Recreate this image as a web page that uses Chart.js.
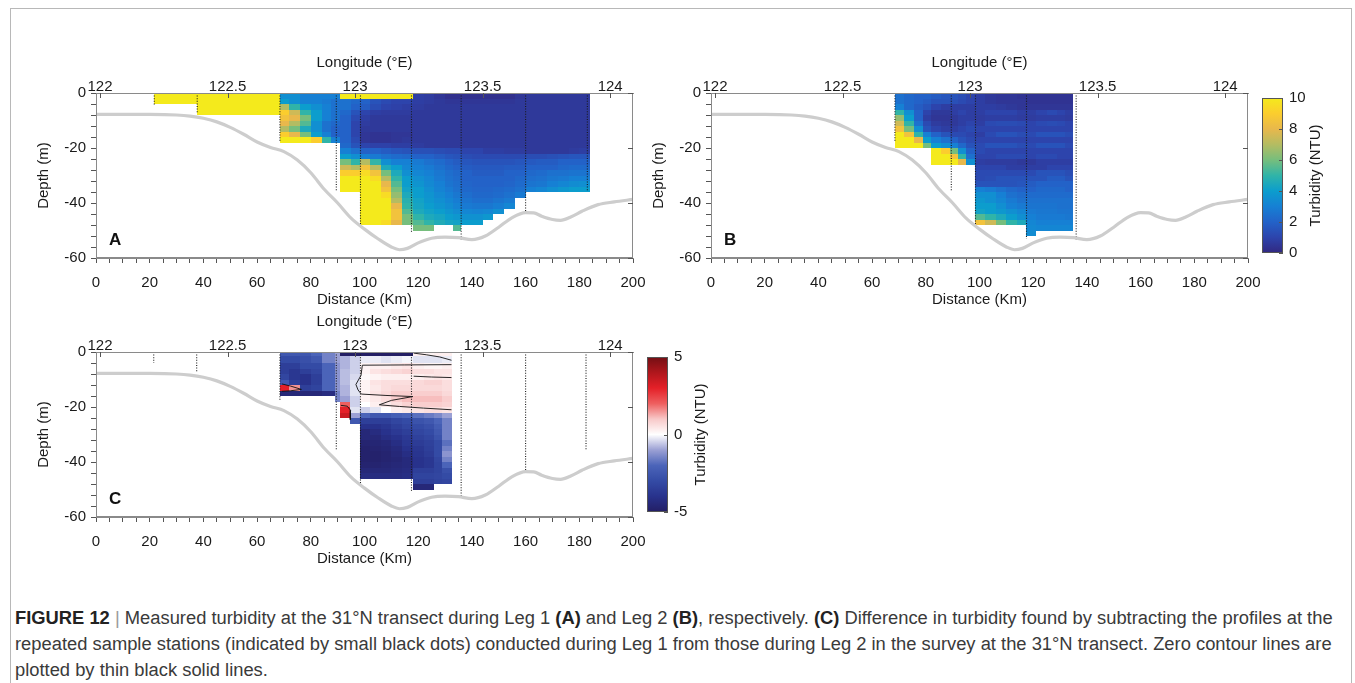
<!DOCTYPE html>
<html lang="en">
<head>
<meta charset="UTF-8">
<title>Turbidity at the 31°N transect</title>
<script src="https://cdn.jsdelivr.net/npm/chart.js"></script>
<style>
  body { margin: 0; background: #fff; width: 1355px; height: 683px; overflow: hidden; position: relative;
         font-family: "Liberation Sans", Arial, sans-serif; }
  .frame { position: absolute; left: 10px; top: 8px; width: 1340px; height: 700px; border: 1px solid #b8b8b8; }
  canvas { position: absolute; }
  #caption { position: absolute; left: 15px; top: 605px; color: #3a3a3a; font-size: 16px; line-height: 26px; }
  #caption span { display: inline-block; white-space: nowrap; }
  #caption b { color: #222; }
  #caption .sep { color: #999; font-weight: normal; }
</style>
</head>
<body>
<div class="frame"></div>
<canvas id="panelA" width="640" height="285" style="left:20px;top:40px"></canvas>
<canvas id="panelB" width="640" height="285" style="left:635px;top:40px"></canvas>
<canvas id="panelC" width="640" height="285" style="left:20px;top:299px"></canvas>
<canvas id="barB" width="100" height="185" style="left:1250px;top:83px"></canvas>
<canvas id="barC" width="100" height="185" style="left:635px;top:342px"></canvas>
<div id="caption">
  <span class="l1"><b>FIGURE 12</b> <span class="sep">|</span> Measured turbidity at the 31°N transect during Leg 1 <b>(A)</b> and Leg 2 <b>(B)</b>, respectively. <b>(C)</b> Difference in turbidity found by subtracting the profiles at the</span><br>
  <span>repeated sample stations (indicated by small black dots) conducted during Leg 1 from those during Leg 2 in the survey at the 31°N transect. Zero contour lines are</span><br>
  <span>plotted by thin black solid lines.</span>
</div>
<script>
const _ = null;

// bottom profile along the transect
const bathDist = [0, 10, 20, 30, 35, 40, 45, 50, 55, 60, 65, 70, 75, 80, 85, 90, 95, 100, 105, 110,
  113, 116, 120, 125, 130, 135, 140, 145, 150, 155, 160, 163, 166, 170, 173, 177, 181, 187, 193, 200];
const bathDepth = [-7.8, -7.8, -7.8, -8, -8.4, -9.2, -10.5, -12.5, -15, -17.8, -19.8, -21.3, -24.4, -29, -35, -40, -45.5, -49.5, -53, -56,
  -57, -56.5, -54.5, -52.8, -52.4, -52.6, -53.3, -52, -48.8, -45.3, -43.5, -43.6, -44.8, -46, -46.3, -45, -43, -40.6, -39.6, -38.7];

// stations (km) and depth reached by each cast (m)
const stationsA = [21.7, 37.7, 68.5, 89.5, 98.5, 117.5, 136, 160, 183];
const castsA = [-4.5, -7.5, -17.5, -35.5, -48, -50.5, -53.3, -44.2, -35.6];
const stationsB = [68.5, 89.5, 98.5, 117.5, 136];
const castsB = [-17.5, -35.5, -48.5, -53, -53.3];
const stationsC = [21.5, 37.5, 68.5, 89.5, 98.5, 117.5, 136, 160, 182.5];
const castsC = [-4, -7.5, -17.5, -35.5, -48.5, -50.5, -53, -44, -35.5];

// Leg 1 turbidity (NTU): column edges (km), row edges (m), one row per depth band
const distEdgesA = [21.7, 37.7, 68.5, 72, 76, 80, 84, 87.5, 91, 95, 98.5, 102, 106, 110, 114, 118, 122,
  126, 130, 133, 136, 140, 144, 148, 152, 156, 160, 164, 168, 172, 176, 180, 184];
const depthEdgesA = [0, -2, -4, -6, -8, -10, -12, -14, -16, -18, -20, -22, -24, -26, -28, -30, -32, -34,
  -36, -38, -40, -42, -44, -46, -48, -50];
const turbA = [
  [10, 10, 3.5, 3.5, 3, 3, 3, 3, 10, 10, 10, 10, 10, 10, 10, 0.8, 0.7, 0.5, 0.3, 0.3, 0.3, 0.3, 0.3, 0.3, 0.3, 0.5, 0.6, 0.6, 0.6, 0.6, 0.6, 0.6],
  [10, 10, 4, 3.5, 3, 3, 2.8, 2.5, 2.5, 2.2, 2, 1.5, 1.2, 1, 1, 0.8, 0.7, 0.6, 0.5, 0.5, 0.5, 0.5, 0.5, 0.5, 0.5, 0.6, 0.6, 0.6, 0.6, 0.6, 0.6, 0.6],
  [_, 10, 7, 5, 4, 3.5, 3, 2.5, 2.5, 2, 1.8, 1.3, 1, 0.9, 0.8, 0.7, 0.6, 0.6, 0.6, 0.6, 0.6, 0.6, 0.6, 0.6, 0.6, 0.6, 0.6, 0.6, 0.6, 0.6, 0.6, 0.6],
  [_, 10, 9, 7.5, 5, 4, 3, 2.5, 2.2, 1.5, 1, 0.8, 0.7, 0.7, 0.7, 0.6, 0.6, 0.6, 0.6, 0.6, 0.6, 0.6, 0.6, 0.6, 0.6, 0.6, 0.6, 0.6, 0.6, 0.6, 0.6, 0.6],
  [_, _, 8.5, 8, 6, 4, 3, 2.5, 2, 1.2, 0.8, 0.6, 0.6, 0.6, 0.6, 0.6, 0.6, 0.6, 0.6, 0.6, 0.6, 0.6, 0.6, 0.6, 0.6, 0.6, 0.6, 0.6, 0.6, 0.6, 0.6, 0.6],
  [_, _, 8, 7, 5.5, 3.5, 2.5, 2.2, 2, 1, 0.7, 0.6, 0.6, 0.6, 0.6, 0.6, 0.6, 0.6, 0.6, 0.6, 0.6, 0.6, 0.6, 0.6, 0.6, 0.6, 0.6, 0.6, 0.6, 0.6, 0.6, 0.6],
  [_, _, 7, 6, 4.5, 3.5, 2.5, 2, 2, 1, 0.6, 0.6, 0.6, 0.6, 0.6, 0.6, 0.6, 0.6, 0.6, 0.6, 0.6, 0.6, 0.6, 0.6, 0.6, 0.6, 0.6, 0.6, 0.6, 0.6, 0.6, 0.6],
  [_, _, 9, 8, 6, 4, 3, 2, 2, 1, 0.5, 0.4, 0.4, 0.5, 0.5, 0.6, 0.6, 0.6, 0.6, 0.6, 0.6, 0.6, 0.6, 0.6, 0.6, 0.6, 0.6, 0.6, 0.6, 0.6, 0.6, 0.6],
  [_, _, 10, 10, 10, 9, 5, 3, 2, 1.2, 0.5, 0.4, 0.4, 0.5, 0.6, 0.6, 0.6, 0.6, 0.6, 0.6, 0.6, 0.6, 0.6, 0.6, 0.6, 0.6, 0.6, 0.6, 0.6, 0.6, 0.6, 0.6],
  [_, _, _, _, _, _, _, _, 2.2, 1.5, 1, 0.9, 0.9, 0.8, 0.8, 0.7, 0.6, 0.6, 0.6, 0.6, 0.6, 0.6, 0.6, 0.6, 0.6, 0.6, 0.6, 0.6, 0.6, 0.6, 0.6, 0.6],
  [_, _, _, _, _, _, _, _, 3, 2.5, 2, 2, 1.8, 1.6, 1.5, 1.4, 1.4, 1.3, 1.2, 1.2, 1, 1, 0.8, 0.8, 0.7, 0.7, 0.6, 0.6, 0.6, 0.6, 0.7, 0.8],
  [_, _, _, _, _, _, _, _, 4, 3.5, 3, 2.8, 2.5, 2.3, 2.2, 2, 2, 1.8, 1.6, 1.5, 1.3, 1.2, 1.2, 1.2, 1.2, 1.2, 1.3, 1.3, 1.4, 1.5, 1.6, 1.6],
  [_, _, _, _, _, _, _, _, 6, 5, 7, 5, 3.5, 3, 3, 2.8, 2.5, 2.3, 2, 1.8, 1.6, 1.5, 1.5, 1.5, 1.5, 1.6, 1.7, 1.8, 1.8, 2, 2, 2],
  [_, _, _, _, _, _, _, _, 7.5, 7, 8.5, 7, 4.5, 4, 3.2, 3, 2.8, 2.5, 2.2, 2, 1.8, 1.7, 1.7, 1.7, 1.8, 1.8, 2, 2, 2, 2.2, 2.3, 2.3],
  [_, _, _, _, _, _, _, _, 9, 9, 9.5, 8.5, 6, 4.5, 3.5, 3.2, 3, 2.7, 2.4, 2.2, 2, 1.8, 1.8, 1.8, 2, 2, 2.2, 2.3, 2.5, 2.5, 2.6, 2.6],
  [_, _, _, _, _, _, _, _, 10, 10, 10, 9.5, 7, 5, 4, 3.5, 3.2, 2.8, 2.5, 2.3, 2, 2, 2, 2, 2, 2.2, 2.4, 2.5, 2.7, 2.8, 3, 3],
  [_, _, _, _, _, _, _, _, 10, 10, 10, 10, 8, 5.5, 4, 3.7, 3.3, 3, 2.6, 2.4, 2.1, 2, 2, 2, 2.1, 2.3, 2.6, 2.7, 3, 3.2, 3.4, 3.5],
  [_, _, _, _, _, _, _, _, 10, 10, 10, 10, 8.5, 6, 4.2, 4, 3.5, 3.1, 2.8, 2.5, 2.2, 2.1, 2.1, 2.2, 2.3, 2.5, 3, 3.2, 3.5, 3.8, 4, 4],
  [_, _, _, _, _, _, _, _, _, _, 10, 10, 9.5, 6.5, 4.5, 4, 3.7, 3.3, 3, 2.7, 2.4, 2.2, 2.2, 2.3, 2.5, 2.8, _, _, _, _, _, _],
  [_, _, _, _, _, _, _, _, _, _, 10, 10, 10, 7, 4.8, 4.2, 3.8, 3.5, 3.2, 2.9, 2.6, 2.4, 2.4, 2.6, 2.8, _, _, _, _, _, _, _],
  [_, _, _, _, _, _, _, _, _, _, 10, 10, 10, 8, 5, 4.3, 4, 3.7, 3.4, 3.1, 2.8, 2.7, 2.7, 2.9, 3.2, _, _, _, _, _, _, _],
  [_, _, _, _, _, _, _, _, _, _, 10, 10, 10, 8.5, 5.5, 4.5, 4.2, 4, 3.7, 3.4, 3.2, 3.1, 3.2, 3.5, _, _, _, _, _, _, _, _],
  [_, _, _, _, _, _, _, _, _, _, 10, 10, 10, 8.5, 6, 5, 4.5, 4.3, 4, 3.8, 3.6, 3.6, 3.8, _, _, _, _, _, _, _, _, _],
  [_, _, _, _, _, _, _, _, _, _, 10, 10, 9.5, 8, 6, 5.5, 5, 4.6, 4.3, 4.2, 4, 4, _, _, _, _, _, _, _, _, _, _],
  [_, _, _, _, _, _, _, _, _, _, _, _, _, _, _, 6, 6, _, _, 5.5, _, _, _, _, _, _, _, _, _, _, _, _]
];

// Leg 2 turbidity (NTU)
const distEdgesB = [68.5, 72, 75.5, 79, 82, 85.5, 89, 92, 95, 98.5, 102, 106, 110, 114, 117.5, 121, 125, 129, 132, 135];
const depthEdgesB = [0, -2, -4, -6, -8, -10, -12, -14, -16, -18, -20, -22, -24, -26, -28, -30, -32, -34,
  -36, -38, -40, -42, -44, -46, -48, -50, -52];
const turbB = [
  [2.5, 2.2, 2, 2, 1.8, 1.6, 1.5, 1.3, 1, 0.8, 0.6, 0.5, 0.5, 0.4, 0.4, 0.4, 0.4, 0.4, 0.4],
  [2.5, 2.2, 2, 1.8, 1.5, 1.5, 1.4, 1.2, 1, 0.8, 0.6, 0.5, 0.5, 0.5, 0.4, 0.4, 0.4, 0.4, 0.4],
  [3, 2.2, 1.8, 1.5, 1, 0.8, 0.8, 0.8, 0.8, 0.8, 0.8, 0.7, 0.6, 0.5, 0.5, 0.5, 0.5, 0.5, 0.5],
  [5, 3.5, 2, 1, 0.6, 0.6, 0.8, 1, 0.8, 0.8, 1, 1, 1, 0.8, 0.8, 1, 1.2, 1, 0.8],
  [6.5, 4, 2, 0.8, 0.5, 0.5, 0.6, 0.8, 0.8, 0.7, 0.8, 0.8, 0.8, 0.7, 0.7, 0.8, 0.8, 0.8, 0.7],
  [7.5, 5, 2.5, 1.2, 0.7, 0.6, 0.6, 0.8, 1, 0.8, 1.2, 1.3, 1.3, 1.2, 1, 1.2, 1.3, 1.2, 1],
  [8.5, 6, 3.5, 1.5, 1, 0.8, 0.8, 1, 1.2, 1, 1, 1, 1, 1, 1, 1, 1, 1, 1],
  [10, 8.5, 5, 3, 2, 1.5, 1.2, 1.2, 1, 0.8, 1.2, 1.5, 1.5, 1.3, 1.2, 1.5, 1.5, 1.5, 1.3],
  [10, 10, 8, 4, 3, 2.5, 2, 1.5, 1.2, 1, 1, 1, 1, 1, 1, 1, 1, 1, 1],
  [10, 10, 10, 6, 4, 3.5, 3, 2.2, 1.5, 1.2, 1.5, 1.5, 1.5, 1.3, 1.2, 1.5, 1.5, 1.5, 1.2],
  [_, _, _, _, 10, 9, 6, 3.5, 2, 1.2, 1, 1, 1, 1, 1, 1, 1, 1, 1],
  [_, _, _, _, 10, 10, 8.5, 5, 2.5, 1, 1, 1.2, 1.2, 1.2, 1, 1.2, 1.2, 1, 1],
  [_, _, _, _, 10, 10, 10, 8, 3.5, 0.8, 0.7, 0.7, 0.7, 0.6, 0.6, 0.8, 0.8, 0.8, 0.8],
  [_, _, _, _, _, _, _, _, _, 1, 1, 1, 0.8, 0.8, 0.8, 0.8, 1, 1, 1],
  [_, _, _, _, _, _, _, _, _, 1.2, 1.2, 1.2, 1.2, 1.2, 1.2, 1.5, 1.5, 1.5, 1.3],
  [_, _, _, _, _, _, _, _, _, 1.2, 1.3, 1.5, 1.5, 1.5, 1.5, 1.5, 1.8, 1.8, 1.5],
  [_, _, _, _, _, _, _, _, _, 1.5, 1.5, 1.5, 1.5, 1.6, 1.8, 2, 2, 2, 2],
  [_, _, _, _, _, _, _, _, _, 3, 2.8, 2.5, 2.2, 2, 2, 2.2, 2.2, 2.2, 2],
  [_, _, _, _, _, _, _, _, _, 3.5, 3.5, 3, 2.5, 2.3, 2.3, 2.3, 2.3, 2.3, 2.3],
  [_, _, _, _, _, _, _, _, _, 3.8, 3.5, 3.2, 2.8, 2.5, 2.5, 2.5, 2.5, 2.5, 2.5],
  [_, _, _, _, _, _, _, _, _, 4, 4, 3.5, 3, 2.8, 2.6, 2.6, 2.6, 2.5, 2.5],
  [_, _, _, _, _, _, _, _, _, 4.2, 4, 3.8, 3.5, 3.2, 2.8, 2.7, 2.7, 2.6, 2.6],
  [_, _, _, _, _, _, _, _, _, 5.5, 5, 4.5, 4, 3.5, 3, 2.8, 2.8, 2.8, 2.7],
  [_, _, _, _, _, _, _, _, _, 8.5, 7.5, 6, 5, 4.5, 3.2, 3, 3, 3, 3],
  [_, _, _, _, _, _, _, _, _, _, _, _, _, _, 3.3, 3.2, 3.2, 3.2, 3.2],
  [_, _, _, _, _, _, _, _, _, _, _, _, _, _, 3.4, _, _, _, _]
];

// Leg 2 minus Leg 1 (NTU)
const distEdgesC = [68.5, 72, 76, 80, 84, 89, 91, 94.5, 98.5, 102, 106, 110, 114, 118, 122, 126, 129, 132.5];
const depthEdgesC = [0, -1.5, -4, -6, -8, -10, -12, -14, -16, -18, -20, -22, -24, -26, -28, -30, -32, -34,
  -36, -38, -40, -42, -44, -46, -48, -50];
const diffC = [
  [-2.5, -2.5, -2.5, -2, -1.5, -1, -5, -5, -5, -5, -5, -5, -5, 0.3, 0.2, 0.3, 0.3],
  [-3, -3, -2.8, -2.5, -1.5, -1, -0.8, -0.5, -0.2, -0.2, -0.3, -0.2, -0.1, -0.3, -0.3, -0.3, -0.2],
  [-3.5, -3.5, -3, -3, -2, -1.2, -0.8, -0.5, 0.2, 0.3, 0.3, 0.4, 0.5, 0.3, 0.2, 0.2, 0.3],
  [-3.5, -3.8, -3.5, -3.2, -2, -1.2, -0.7, -0.5, 0.2, 0.5, 0.6, 0.7, 0.8, 0.6, 0.6, 0.5, 0.5],
  [-3.2, -3.8, -4, -3.5, -2, -1.2, -0.7, -0.4, 0.1, 0.2, 0.3, 0.3, 0.3, 0.3, 0.4, 0.5, 0.4],
  [-2.5, -3.5, -4, -3.5, -2, -1.2, -0.7, -0.3, 0.2, 0.5, 0.6, 0.6, 0.6, 0.7, 0.8, 0.8, 0.6],
  [3, 1.5, -3.5, -3.3, -2, -1.2, -0.8, -0.3, 0.2, 0.4, 0.6, 0.7, 0.7, 0.7, 0.7, 0.7, 0.6],
  [-4.5, -4.5, -4.5, -4.5, -4.3, -1.5, -0.8, -0.3, 0.2, 0.5, 0.7, 0.9, 0.9, 0.9, 0.9, 0.9, 0.7],
  [_, _, _, _, _, -1.5, -1, -0.5, 0.2, 0.4, 0.6, 0.9, 1.1, 1.1, 1.1, 1.1, 0.9],
  [_, _, _, _, _, _, 2, -0.5, 0, 0.3, 0.4, 0.6, 0.8, 0.9, 0.9, 0.9, 0.8],
  [_, _, _, _, _, _, 3, -0.3, -0.5, -0.3, 0, 0.3, 0.4, 0.5, 0.6, 0.6, 0.5],
  [_, _, _, _, _, _, 3.5, -1, -2, -2.5, -2.5, -2.2, -2, -1.8, -1.6, -1.4, -1],
  [_, _, _, _, _, _, _, -2.5, -3.5, -3.5, -3.5, -3.2, -3, -2.7, -2.5, -2, -1.5],
  [_, _, _, _, _, _, _, _, -4, -4, -3.8, -3.5, -3.2, -3, -2.8, -2.3, -1.5],
  [_, _, _, _, _, _, _, _, -4.5, -4.3, -4, -3.7, -3.5, -3.2, -3, -2.5, -1.5],
  [_, _, _, _, _, _, _, _, -4.5, -4.5, -4.2, -4, -3.7, -3.4, -3.2, -2.7, -1.5],
  [_, _, _, _, _, _, _, _, -4.7, -4.6, -4.5, -4.2, -3.8, -3.6, -3.4, -3, -1.8],
  [_, _, _, _, _, _, _, _, -4.8, -4.7, -4.6, -4.4, -4, -3.8, -3.5, -3, -1.5],
  [_, _, _, _, _, _, _, _, -4.8, -4.8, -4.7, -4.5, -4.2, -3.9, -3.6, -3, -1.2],
  [_, _, _, _, _, _, _, _, -4.8, -4.8, -4.7, -4.6, -4.4, -4, -3.8, -3.2, -1.5],
  [_, _, _, _, _, _, _, _, -4.7, -4.7, -4.6, -4.5, -4.4, -4, -3.8, -3.3, -2],
  [_, _, _, _, _, _, _, _, -4.5, -4.5, -4.5, -4.4, -4.3, -3.5, -3.5, -3.3, -2.8],
  [_, _, _, _, _, _, _, _, -4.3, -4.3, -4.3, -4.3, -4.2, -3.3, -3.3, -3.2, -3],
  [_, _, _, _, _, _, _, _, _, _, _, _, _, -3.5, -3.5, -3.3, -3.2],
  [_, _, _, _, _, _, _, _, _, _, _, _, _, -4.5, -4.5, _, _]
];

// zero contours of the difference, [km, m]
const contoursC = [
  [[69.2, -11.6], [72.5, -12.4], [76.5, -13.6], [72.5, -14.1], [69.2, -14.3]],
  [[91.2, -19.4], [93.6, -19.7], [94.8, -21.2], [94.7, -24.6]],
  [[118.3, -0.4], [123, -1], [128, -1.8], [132.4, -3]],
  [[132.4, -4.6], [115, -4.7], [99.2, -4.8], [98.7, -8.5], [96.8, -11.8], [97.6, -13.8], [98.8, -15.3], [108, -15.8],
   [118, -16.2], [110, -17.6], [105.5, -19.2], [113, -19.8], [122, -20.4], [132.4, -21]],
  [[118.3, -8.8], [125, -9.1], [132.4, -9.3]]
];

// colour maps
const parula = [[0, [50, 40, 128]], [1, [45, 68, 172]], [2, [35, 98, 200]], [3, [22, 128, 212]], [4, [12, 157, 205]],
  [5, [48, 180, 168]], [6, [118, 190, 125]], [7, [180, 188, 98]], [8, [232, 184, 76]], [9, [251, 205, 46]], [10, [244, 234, 28]]];
const blueRed = [[-5, [35, 30, 100]], [-4, [40, 50, 140]], [-3, [52, 75, 165]], [-2, [75, 100, 185]], [-1, [155, 160, 212]],
  [0, [255, 255, 255]], [1, [248, 200, 200]], [2, [238, 95, 95]], [3, [228, 32, 40]], [4, [175, 22, 28]], [5, [115, 15, 20]]];

// longitude axis: 122°E sits at 1.5 km, ~95 km per degree
const lonAt0 = 122 - 1.5 / 95;
const lonAt200 = 122 + 198.5 / 95;

const FONT = '"Liberation Sans", Arial, sans-serif';
Chart.defaults.font.family = FONT;
Chart.defaults.font.size = 15;
Chart.defaults.color = '#1a1a1a';

function rampColor(stops, v) {
  if (v <= stops[0][0]) return `rgb(${stops[0][1].join(',')})`;
  for (let i = 1; i < stops.length; i++) {
    if (v <= stops[i][0]) {
      const [v0, c0] = stops[i - 1];
      const [v1, c1] = stops[i];
      const t = (v - v0) / (v1 - v0);
      return `rgb(${c0.map((c, k) => Math.round(c + (c1[k] - c) * t)).join(',')})`;
    }
  }
  return `rgb(${stops[stops.length - 1][1].join(',')})`;
}

function heatmap(dists, depths, rows, stops) {
  return {
    id: 'heatmap',
    beforeDatasetsDraw(chart) {
      const { ctx, chartArea: a, scales: { x, y } } = chart;
      ctx.save();
      ctx.beginPath();
      ctx.rect(a.left, a.top, a.width, a.height);
      ctx.clip();
      rows.forEach((row, r) => {
        const y0 = Math.round(y.getPixelForValue(depths[r]));
        const y1 = Math.round(y.getPixelForValue(depths[r + 1]));
        row.forEach((v, c) => {
          if (v === null) return;
          const x0 = Math.round(x.getPixelForValue(dists[c]));
          const x1 = Math.round(x.getPixelForValue(dists[c + 1]));
          ctx.fillStyle = rampColor(stops, v);
          ctx.fillRect(x0, y0, x1 - x0, y1 - y0);
        });
      });
      ctx.restore();
    }
  };
}

function frame(letter) {
  return {
    id: 'frame',
    afterDatasetsDraw(chart) {
      const { ctx, chartArea: a, scales } = chart;
      ctx.save();
      ctx.strokeStyle = '#8a8a8a';
      ctx.lineWidth = 1;
      ctx.strokeRect(a.left + 0.5, a.top + 0.5, a.width - 1, a.height - 1);
      ctx.strokeStyle = '#555';
      ctx.beginPath();
      scales.x2.ticks.forEach(t => {
        const px = Math.round(scales.x2.getPixelForValue(t.value)) + 0.5;
        ctx.moveTo(px, a.top);
        ctx.lineTo(px, a.top + 5);
      });
      scales.y.ticks.forEach(t => {
        if (t.value % 20 !== 0) return;
        const py = Math.round(scales.y.getPixelForValue(t.value)) + 0.5;
        ctx.moveTo(a.right, py);
        ctx.lineTo(a.right - 5, py);
      });
      ctx.stroke();
      ctx.fillStyle = '#111';
      ctx.font = `bold 17px ${FONT}`;
      ctx.fillText(letter, a.left + 13, a.bottom - 13);
      ctx.restore();
    }
  };
}

function colorbar(stops, title) {
  return {
    id: 'colorbar',
    beforeDatasetsDraw(chart) {
      const { ctx, chartArea: a, scales: { y } } = chart;
      const lo = stops[0][0], hi = stops[stops.length - 1][0];
      const g = ctx.createLinearGradient(0, y.getPixelForValue(lo), 0, y.getPixelForValue(hi));
      stops.forEach(([v, c]) => g.addColorStop((v - lo) / (hi - lo), `rgb(${c.join(',')})`));
      ctx.save();
      ctx.fillStyle = g;
      ctx.fillRect(a.left, a.top, a.width, a.height);
      ctx.strokeStyle = '#555';
      ctx.lineWidth = 1;
      ctx.strokeRect(a.left + 0.5, a.top + 0.5, a.width - 1, a.height - 1);
      ctx.beginPath();
      y.ticks.forEach(t => {
        const py = Math.round(y.getPixelForValue(t.value)) + 0.5;
        ctx.moveTo(a.right, py);
        ctx.lineTo(a.right - 4, py);
      });
      ctx.stroke();
      ctx.translate(a.right + 33, (a.top + a.bottom) / 2);
      ctx.rotate(-Math.PI / 2);
      ctx.font = `15px ${FONT}`;
      ctx.fillStyle = '#1a1a1a';
      ctx.textAlign = 'center';
      ctx.textBaseline = 'middle';
      ctx.fillText(title, 0, 0);
      ctx.restore();
    }
  };
}

function lineSets(stations, casts, contours) {
  const sets = [{
    data: bathDist.map((d, i) => ({ x: d, y: bathDepth[i] })),
    borderColor: '#cdcdcd', borderWidth: 3.2, cubicInterpolationMode: 'monotone'
  }];
  stations.forEach((s, i) => sets.push({
    data: [{ x: s, y: 0 }, { x: s, y: casts[i] }],
    borderColor: '#1a1a1a', borderWidth: 1.1, borderDash: [1, 1.6]
  }));
  contours.forEach(c => sets.push({
    data: c.map(([x, y]) => ({ x, y })),
    borderColor: '#111', borderWidth: 0.9
  }));
  return sets.map(s => Object.assign({ showLine: true, pointRadius: 0, fill: false }, s));
}

function panel(id, letter, dists, depths, rows, stops, stations, casts, contours) {
  return new Chart(document.getElementById(id), {
    type: 'scatter',
    data: { datasets: lineSets(stations, casts, contours) },
    options: {
      responsive: false,
      animation: false,
      devicePixelRatio: 1,
      layout: { autoPadding: false, padding: { left: 0, right: 27, top: 0, bottom: 0 } },
      plugins: { legend: { display: false }, tooltip: { enabled: false } },
      scales: {
        x: {
          type: 'linear', position: 'bottom', min: 0, max: 200,
          ticks: { stepSize: 5, autoSkip: false, maxRotation: 0, padding: 11, callback: v => (v % 20 === 0 ? v : '') },
          grid: { drawOnChartArea: false, tickLength: 5, color: '#555' },
          border: { color: '#8a8a8a' },
          title: { display: true, text: 'Distance (Km)', padding: { bottom: 16 } },
          afterFit: s => { s.height = 67; }
        },
        x2: {
          type: 'linear', position: 'top', min: lonAt0, max: lonAt200,
          ticks: { stepSize: 0.5, includeBounds: false, padding: -3, callback: v => String(v) },
          grid: { drawOnChartArea: false, drawTicks: false },
          border: { color: '#8a8a8a' },
          title: { display: true, text: 'Longitude (°E)', padding: { top: 14 } },
          afterFit: s => { s.height = 53; }
        },
        y: {
          type: 'linear', position: 'left', min: -60, max: 0,
          ticks: { stepSize: 4, autoSkip: false, padding: 5, callback: v => (v % 20 === 0 ? v : '') },
          grid: { drawOnChartArea: false, tickLength: 5, color: '#555' },
          border: { color: '#8a8a8a' },
          title: { display: true, text: 'Depth (m)', padding: { top: 15 } },
          afterFit: s => { s.width = 76; }
        }
      }
    },
    plugins: [heatmap(dists, depths, rows, stops), frame(letter)]
  });
}

function bar(id, stops, min, max, step) {
  return new Chart(document.getElementById(id), {
    type: 'scatter',
    data: { datasets: [] },
    options: {
      responsive: false,
      animation: false,
      devicePixelRatio: 1,
      layout: { autoPadding: false, padding: { left: 12, right: 0, top: 10, bottom: 10 } },
      plugins: { legend: { display: false }, tooltip: { enabled: false } },
      scales: {
        x: { display: false, min: 0, max: 1 },
        y: {
          position: 'right', min, max,
          ticks: { stepSize: step, padding: 6 },
          grid: { drawOnChartArea: false, drawTicks: false },
          border: { display: false },
          afterFit: s => { s.width = 67; }
        }
      }
    },
    plugins: [colorbar(stops, 'Turbidity (NTU)')]
  });
}

panel('panelA', 'A', distEdgesA, depthEdgesA, turbA, parula, stationsA, castsA, []);
panel('panelB', 'B', distEdgesB, depthEdgesB, turbB, parula, stationsB, castsB, []);
panel('panelC', 'C', distEdgesC, depthEdgesC, diffC, blueRed, stationsC, castsC, contoursC);
bar('barB', parula, 0, 10, 2);
bar('barC', blueRed, -5, 5, 5);

// stretch the caption so its first line spans the text block
const cap = document.getElementById('caption');
const w = cap.querySelector('.l1').getBoundingClientRect().width;
cap.style.fontSize = (16 * 1318 / w).toFixed(2) + 'px';
</script>
</body>
</html>
